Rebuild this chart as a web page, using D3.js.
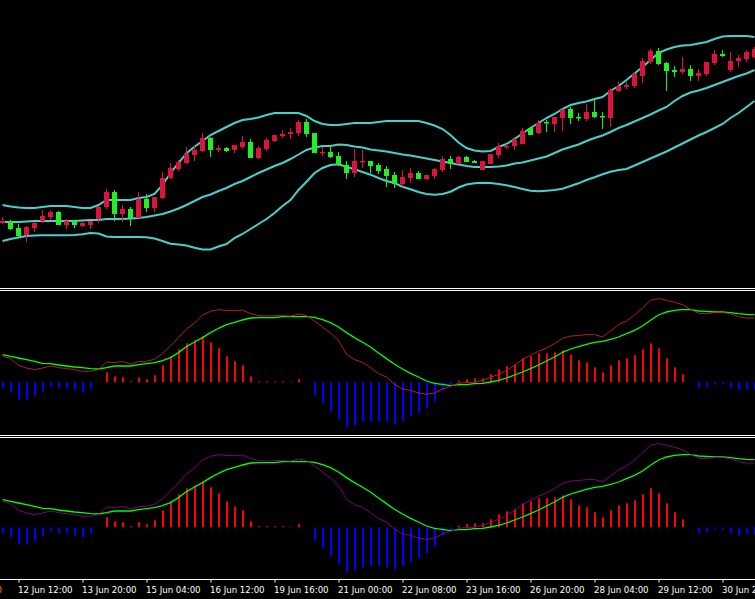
<!DOCTYPE html>
<html>
<head>
<meta charset="utf-8">
<script src="https://cdn.jsdelivr.net/npm/d3@7"></script>
<style>
  html, body { margin: 0; padding: 0; background: #000; overflow: hidden; }
  svg { display: block; }
</style>
</head>
<body>
<div id="chart"></div>
<script>
// H4 candles, oldest on the left
var openP = [
  1.1077,1.1079,1.1072,1.1065,1.1072,1.1079,1.1083,1.1088,1.1075,1.1079,
  1.1074,1.1075,1.1081,1.1093,1.1108,1.1086,1.1091,1.1082,1.1101,1.1092,
  1.1102,1.1122,1.1131,1.1137,1.1145,1.1149,1.1162,1.1150,1.1152,1.1150,
  1.1153,1.1158,1.1142,1.1151,1.1159,1.1164,1.1166,1.1167,1.1178,1.1167,
  1.1147,1.1148,1.1144,1.1135,1.1127,1.1138,1.1139,1.1135,1.1131,1.1125,
  1.1116,1.1122,1.1127,1.1121,1.1124,1.1130,1.1141,1.1136,1.1143,1.1139,
  1.1130,1.1136,1.1145,1.1153,1.1154,1.1156,1.1172,1.1167,1.1178,1.1176,
  1.1182,1.1191,1.1183,1.1181,1.1188,1.1184,1.1182,1.1209,1.1213,1.1214,
  1.1224,1.1238,1.1249,1.1237,1.1230,1.1228,1.1231,1.1224,1.1226,1.1237,
  1.1246,1.1230,1.1239,1.1241,1.1243
];
var highP = [
  1.1083,1.1080,1.1076,1.1074,1.1078,1.1090,1.1090,1.1089,1.1081,1.1080,
  1.1078,1.1079,1.1094,1.1111,1.1110,1.1095,1.1093,1.1108,1.1106,1.1103,
  1.1128,1.1137,1.1140,1.1153,1.1154,1.1167,1.1163,1.1155,1.1153,1.1155,
  1.1164,1.1161,1.1154,1.1162,1.1165,1.1170,1.1172,1.1180,1.1181,1.1167,
  1.1153,1.1154,1.1148,1.1139,1.1151,1.1150,1.1139,1.1137,1.1134,1.1128,
  1.1130,1.1132,1.1129,1.1125,1.1132,1.1144,1.1144,1.1144,1.1144,1.1140,
  1.1139,1.1146,1.1157,1.1156,1.1163,1.1172,1.1173,1.1180,1.1180,1.1183,
  1.1191,1.1193,1.1187,1.1196,1.1200,1.1188,1.1212,1.1218,1.1218,1.1228,
  1.1242,1.1251,1.1252,1.1238,1.1234,1.1243,1.1235,1.1231,1.1238,1.1250,
  1.1250,1.1248,1.1245,1.1250,1.1253
];
var lowP = [
  1.1076,1.1070,1.1063,1.1058,1.1068,1.1077,1.1080,1.1075,1.1071,1.1072,
  1.1073,1.1071,1.1077,1.1091,1.1079,1.1078,1.1074,1.1082,1.1088,1.1088,
  1.1101,1.1121,1.1129,1.1136,1.1139,1.1148,1.1143,1.1148,1.1148,1.1147,
  1.1151,1.1142,1.1141,1.1149,1.1158,1.1162,1.1161,1.1164,1.1163,1.1147,
  1.1144,1.1142,1.1134,1.1121,1.1123,1.1132,1.1127,1.1126,1.1113,1.1112,
  1.1113,1.1117,1.1121,1.1120,1.1121,1.1128,1.1131,1.1136,1.1138,1.1137,
  1.1130,1.1136,1.1142,1.1151,1.1150,1.1156,1.1165,1.1166,1.1168,1.1168,
  1.1169,1.1176,1.1179,1.1179,1.1182,1.1171,1.1173,1.1208,1.1211,1.1212,
  1.1217,1.1236,1.1235,1.1209,1.1223,1.1226,1.1219,1.1219,1.1224,1.1235,
  1.1243,1.1228,1.1233,1.1238,1.1242
];
var closeP = [
  1.1079,1.1071,1.1064,1.1073,1.1077,1.1084,1.1088,1.1075,1.1079,1.1075,
  1.1077,1.1079,1.1093,1.1108,1.1086,1.1091,1.1082,1.1101,1.1092,1.1103,
  1.1122,1.1132,1.1138,1.1146,1.1150,1.1162,1.1150,1.1152,1.1149,1.1155,
  1.1158,1.1142,1.1152,1.1160,1.1165,1.1166,1.1168,1.1178,1.1166,1.1147,
  1.1148,1.1143,1.1136,1.1127,1.1139,1.1139,1.1134,1.1129,1.1124,1.1116,
  1.1123,1.1127,1.1121,1.1125,1.1131,1.1141,1.1136,1.1143,1.1138,1.1137,
  1.1139,1.1146,1.1154,1.1154,1.1160,1.1169,1.1165,1.1177,1.1177,1.1183,
  1.1190,1.1182,1.1182,1.1188,1.1183,1.1183,1.1210,1.1214,1.1215,1.1226,
  1.1239,1.1249,1.1236,1.1229,1.1228,1.1231,1.1224,1.1227,1.1238,1.1246,
  1.1244,1.1239,1.1242,1.1248,1.1251
];

// bollinger bands
var bbUpper = [
  1.1095,1.10935,1.10925,1.1092,1.1092,1.1093,1.1094,1.1094,1.1094,1.1093,
  1.1092,1.1092,1.1095,1.1100,1.1100,1.1100,1.1100,1.1102,1.1103,1.1106,
  1.1115,1.1127,1.1137,1.11467,1.11533,1.1159,1.1165,1.1169,1.1173,1.1177,
  1.1180,1.1181,1.11825,1.1185,1.1187,1.1187,1.1187,1.1187,1.1184,1.1179,
  1.1176,1.1175,1.1175,1.1176,1.1177,1.1177,1.1177,1.1178,1.1179,1.1179,
  1.1179,1.1179,1.1179,1.1177,1.11745,1.1171,1.1165,1.11575,1.1152,1.11495,
  1.11485,1.1149,1.1153,1.1156,1.1161,1.11665,1.1172,1.1177,1.1182,1.1186,
  1.1191,1.1195,1.1197,1.11985,1.1201,1.1203,1.1209,1.1214,1.1220,1.12265,
  1.1233,1.1240,1.1247,1.12505,1.1253,1.12545,1.1255,1.12565,1.1258,1.1261,
  1.12635,1.1264,1.1264,1.1264,1.1263
];
var bbMiddle = [
  1.1078,1.1078,1.1078,1.10785,1.1079,1.1079,1.1079,1.1079,1.1079,1.1079,
  1.10795,1.1080,1.1080,1.1081,1.1081,1.1081,1.10815,1.1082,1.1083,1.10845,
  1.1086,1.10885,1.10915,1.1095,1.1099,1.1103,1.11055,1.1109,1.1112,1.1116,
  1.1119,1.1123,1.1127,1.11305,1.1134,1.1137,1.1141,1.11455,1.1150,1.11525,
  1.1154,1.1154,1.11555,1.1155,1.11535,1.11525,1.11505,1.11495,1.11485,1.1147,
  1.11455,1.11445,1.1143,1.11415,1.1140,1.11385,1.1137,1.11355,1.1134,1.1133,
  1.1133,1.1133,1.11335,1.11345,1.11365,1.11375,1.11395,1.11415,1.11435,1.1147,
  1.11505,1.1153,1.11555,1.1159,1.1162,1.11645,1.1168,1.1172,1.1175,1.11785,
  1.1182,1.11855,1.11895,1.1193,1.1199,1.1204,1.12075,1.12095,1.1212,1.1215,
  1.1218,1.1221,1.1224,1.12265,1.1230
];
var bbLower = [
  1.1059,1.1061,1.10625,1.1064,1.10645,1.10647,1.10647,1.10647,1.10647,1.1065,
  1.10657,1.1067,1.10665,1.10635,1.1063,1.1063,1.1063,1.1063,1.10627,1.10615,
  1.1059,1.10563,1.10555,1.10545,1.10523,1.10505,1.10505,1.10535,1.1056,1.1062,
  1.1066,1.1071,1.1076,1.1081,1.1087,1.1094,1.1100,1.1110,1.11183,1.1127,
  1.1132,1.1135,1.11357,1.11333,1.11307,1.1128,1.11253,1.1122,1.1119,1.1117,
  1.11133,1.11107,1.1108,1.1106,1.11053,1.1106,1.11083,1.11125,1.11155,1.11167,
  1.11173,1.1117,1.1116,1.11147,1.1113,1.1111,1.11093,1.11087,1.11093,1.1110,
  1.11113,1.1114,1.11167,1.1120,1.11227,1.11257,1.11283,1.1130,1.1131,1.11345,
  1.1138,1.11415,1.1145,1.11485,1.11525,1.11565,1.11605,1.11645,1.1168,1.1172,
  1.1176,1.1182,1.1187,1.1193,1.1199
];

// macd (both sub windows show the same values)
var macdMain = [
  0.0026,0.00237,0.0017,0.00143,0.00127,0.00143,0.00163,0.00147,0.00137,0.00127,
  0.0011,0.0011,0.00127,0.00203,0.00197,0.00207,0.00183,0.00207,0.0021,0.0023,
  0.00287,0.00363,0.00447,0.00533,0.00593,0.00673,0.0071,0.00727,0.00717,0.00717,
  0.00723,0.00687,0.00667,0.00663,0.00667,0.00667,0.00663,0.00683,0.00667,0.00613,
  0.00553,0.00493,0.00417,0.0028,0.00227,0.002,0.00147,0.00087,0.00053,-0.0002,
  -0.00067,-0.0008,-0.00107,-0.0012,-0.00107,-0.00067,-0.0004,-0.0001,-0.00003,0,
  0.0002,0.0005,0.0008,0.0012,0.0017,0.0023,0.0027,0.0031,0.00343,0.00387,
  0.0044,0.00463,0.00467,0.00477,0.00477,0.00453,0.00513,0.00577,0.00613,0.00673,
  0.00743,0.0082,0.00837,0.0082,0.008,0.00777,0.0073,0.0069,0.00687,0.00697,
  0.00697,0.00687,0.00657,0.00643,0.00643
];
var macdSignal = [
  0.00277,0.0026,0.00243,0.00227,0.0021,0.0019,0.00187,0.00173,0.00163,0.00153,
  0.00147,0.00137,0.00133,0.00147,0.00163,0.00163,0.00163,0.00177,0.00187,0.00197,
  0.00217,0.00247,0.00297,0.00357,0.00403,0.00447,0.00497,0.0054,0.00577,0.006,
  0.00623,0.00643,0.00647,0.00647,0.00647,0.00657,0.00657,0.00657,0.00657,0.0065,
  0.00627,0.00597,0.00553,0.00497,0.00447,0.004,0.00353,0.00293,0.00237,0.0018,
  0.00133,0.0009,0.00053,0.00013,-0.0001,-0.0002,-0.00033,-0.00023,-0.00023,-0.00013,
  -0.0001,0.00003,0.0002,0.00043,0.00073,0.00103,0.00137,0.00173,0.00213,0.00253,
  0.003,0.00333,0.00357,0.0038,0.004,0.0041,0.0043,0.00453,0.00487,0.0052,
  0.00563,0.0062,0.00673,0.00703,0.0072,0.00727,0.00727,0.00713,0.0071,0.00703,
  0.00703,0.00697,0.00687,0.0068,0.00677
];
var macdHist = [
  -0.0006,-0.001,-0.0017,-0.0017,-0.0014,-0.0009,-0.0004,-0.0006,-0.0006,-0.0008,
  -0.001,-0.0007,0,0.001,0.0006,0.0005,0.0001,0.0005,0.0003,0.0007,
  0.0017,0.0026,0.0033,0.0039,0.0042,0.0046,0.004,0.0034,0.0026,0.0021,
  0.0017,0.0006,0.0001,0.0001,0.0001,0.0001,0.00005,0.0003,0,-0.0013,
  -0.0021,-0.0029,-0.0037,-0.0045,-0.0043,-0.004,-0.0039,-0.0039,-0.004,-0.0042,
  -0.0039,-0.0034,-0.0031,-0.0026,-0.0019,-0.0008,-0.0004,0.00015,0.0003,0.0004,
  0.0004,0.0008,0.0013,0.0016,0.0018,0.0024,0.0026,0.0029,0.0029,0.003,
  0.0032,0.0028,0.0022,0.002,0.0015,0.001,0.0017,0.0022,0.0024,0.0027,
  0.0033,0.0039,0.0034,0.0024,0.0015,0.0008,0,-0.0006,-0.0005,-0.0002,
  -0.0002,-0.0006,-0.0008,-0.0007,-0.0007
];

// time axis: one label every 8 candles
var tickIndex = [2, 10, 18, 26, 34, 42, 50, 58, 66, 74, 82, 90];
var tickLabels = [
  "12 Jun 12:00", "13 Jun 20:00", "15 Jun 04:00", "16 Jun 12:00",
  "19 Jun 16:00", "21 Jun 00:00", "22 Jun 08:00", "23 Jun 16:00",
  "26 Jun 20:00", "28 Jun 04:00", "29 Jun 12:00", "30 Jun 20:00"
];

var width = 755;
var height = 599;

var svg = d3
  .select("#chart")
  .append("svg")
  .attr("width", width)
  .attr("height", height)
  .style("background", "#000");

var xScale = d3.scaleLinear().domain([0, openP.length - 1]).range([2.5, 754.5]);
var yMain = d3.scaleLinear().domain([1.1014, 1.13]).range([286, 0]);
var yMacd1 = d3.scaleLinear().domain([-0.00507, 0.00913]).range([433, 291]);
var yMacd2 = d3.scaleLinear().domain([-0.00507, 0.00893]).range([578, 438]);

var defs = svg.append("defs");
function addClip(id, y0, y1) {
  defs
    .append("clipPath")
    .attr("id", id)
    .append("rect")
    .attr("x", 0)
    .attr("y", y0)
    .attr("width", width)
    .attr("height", y1 - y0);
}
addClip("clipMain", 0, 287);
addClip("clipM1", 291, 434);
addClip("clipM2", 438, 578);

// ---- main window ----
var main = svg.append("g").attr("clip-path", "url(#clipMain)");

var bandLine = d3
  .line()
  .x(function(d, i) {
    return xScale(i);
  })
  .y(function(d) {
    return yMain(d);
  });

[bbUpper, bbMiddle, bbLower].forEach(function(band) {
  main
    .append("path")
    .datum(band)
    .attr("d", bandLine)
    .attr("fill", "none")
    .attr("stroke", "#48d1cc")
    .attr("stroke-width", 2);
});

var candles = openP.map(function(o, i) {
  return { i: i, o: o, h: highP[i], l: lowP[i], c: closeP[i] };
});

function candleColor(d) {
  return d.c >= d.o ? "#dc143c" : "#22ee22";
}

var cg = main
  .selectAll("g.candle")
  .data(candles)
  .enter()
  .append("g")
  .attr("class", "candle");

cg.append("line")
  .attr("x1", function(d) {
    return xScale(d.i);
  })
  .attr("x2", function(d) {
    return xScale(d.i);
  })
  .attr("y1", function(d) {
    return yMain(d.h);
  })
  .attr("y2", function(d) {
    return yMain(d.l);
  })
  .attr("stroke", candleColor)
  .attr("stroke-width", 1);

cg.append("rect")
  .attr("x", function(d) {
    return xScale(d.i) - 2.5;
  })
  .attr("y", function(d) {
    return yMain(Math.max(d.o, d.c));
  })
  .attr("width", 5)
  .attr("height", function(d) {
    return Math.max(1.5, Math.abs(yMain(d.o) - yMain(d.c)));
  })
  .attr("fill", candleColor);

// ---- separators ----
[288.5, 290.5, 435.5, 437.5].forEach(function(yy) {
  svg
    .append("line")
    .attr("x1", 0)
    .attr("x2", width)
    .attr("y1", yy)
    .attr("y2", yy)
    .attr("stroke", "#fff")
    .attr("stroke-width", 1);
});

// ---- macd windows ----
function drawMacd(clipId, yScale, lineColor) {
  var g = svg.append("g").attr("clip-path", "url(#" + clipId + ")");
  var zero = yScale(0);

  g.selectAll("rect.hist")
    .data(macdHist)
    .enter()
    .append("rect")
    .attr("class", "hist")
    .attr("x", function(d, i) {
      return xScale(i) - 0.5;
    })
    .attr("y", function(d) {
      return d >= 0 ? yScale(d) : zero;
    })
    .attr("width", 2)
    .attr("height", function(d) {
      return Math.abs(yScale(d) - zero);
    })
    .attr("fill", function(d) {
      return d >= 0 ? "#ff0000" : "#0000ff";
    });

  var line = d3
    .line()
    .x(function(d, i) {
      return xScale(i);
    })
    .y(function(d) {
      return yScale(d);
    });

  g.append("path")
    .datum(macdSignal)
    .attr("d", line)
    .attr("fill", "none")
    .attr("stroke", "#00ff00")
    .attr("stroke-width", 1.3);

  g.append("path")
    .datum(macdMain)
    .attr("d", line)
    .attr("fill", "none")
    .attr("stroke", lineColor)
    .attr("stroke-width", 1);
}

drawMacd("clipM1", yMacd1, "#b22222");
drawMacd("clipM2", yMacd2, "#800080");

// ---- time axis ----
svg
  .append("line")
  .attr("x1", 0)
  .attr("x2", width)
  .attr("y1", 579.5)
  .attr("y2", 579.5)
  .attr("stroke", "#fff");

var xAxis = d3
  .axisBottom(xScale)
  .tickValues(tickIndex)
  .tickSize(3)
  .tickSizeOuter(0)
  .tickFormat(function(d) {
    return tickLabels[tickIndex.indexOf(d)];
  });

var axisG = svg
  .append("g")
  .attr("transform", "translate(0,579.5)")
  .call(xAxis);

axisG.select(".domain").remove();
axisG.selectAll(".tick line").attr("stroke", "#fff");
axisG
  .selectAll(".tick text")
  .attr("fill", "#fff")
  .attr("text-anchor", "start")
  .attr("x", -1)
  .attr("y", 13)
  .attr("dy", 0)
  .style("font-family", "'DejaVu Sans', sans-serif")
  .style("font-size", "8.6px");

// cut-off orange label at the left edge
svg
  .append("text")
  .attr("x", 2)
  .attr("y", 592.5)
  .attr("text-anchor", "end")
  .attr("fill", "#ff8c00")
  .style("font-family", "'DejaVu Sans', sans-serif")
  .style("font-size", "8.6px")
  .text("0");
</script>
</body>
</html>
